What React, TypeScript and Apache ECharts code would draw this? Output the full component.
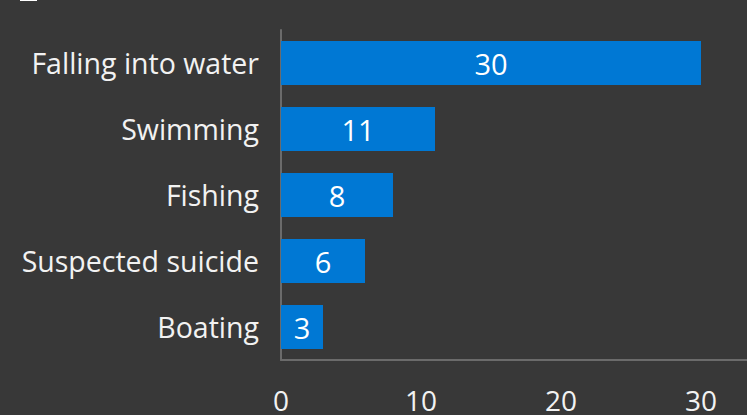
import React, { useEffect, useRef } from "react";
import * as echarts from "echarts";

const categories = ["Falling into water", "Swimming", "Fishing", "Suspected suicide", "Boating"];
const values = [30, 11, 8, 6, 3];
const xTicks = [0, 10, 20, 30, 40];

export default function App() {
  const ref = useRef<HTMLDivElement>(null);
  useEffect(() => {
    if (!ref.current) return;
    const chart = echarts.init(ref.current, undefined, { renderer: "svg" });
    const font = "'Open Sans', 'Noto Sans', sans-serif";
    chart.setOption({
      animation: false,
      backgroundColor: "#383838",
      grid: { left: 281, top: 30, right: 59, bottom: 70, containLabel: false },
      xAxis: {
        type: "value",
        min: xTicks[0],
        max: xTicks[xTicks.length - 1],
        interval: 10,
        axisLine: { show: true, lineStyle: { color: "#6b6b6b", width: 2 } },
        axisTick: { show: false },
        splitLine: { show: false },
        axisLabel: { color: "#f2f2f2", fontSize: 28, fontFamily: font, margin: 26 },
      },
      yAxis: {
        type: "category",
        inverse: true,
        data: categories,
        axisLine: { show: true, lineStyle: { color: "#6b6b6b", width: 2 } },
        axisTick: { show: false },
        axisLabel: { color: "#f2f2f2", fontSize: 28.5, fontFamily: font, margin: 22 },
      },
      series: [
        {
          type: "bar",
          data: values,
          barCategoryGap: "33%",
          itemStyle: { color: "#0078d4" },
          label: {
            show: true,
            position: "inside",
            color: "#ffffff",
            fontSize: 29,
            fontFamily: font,
          },
        },
      ],
      graphic: [
        {
          type: "rect",
          shape: { x: 21, y: -14, width: 15, height: 14 },
          style: { fill: "#555555", stroke: "#ffffff", lineWidth: 2 },
        },
      ],
    });
    return () => chart.dispose();
  }, []);
  return (
    <div style={{ position: "fixed", left: 0, top: 0, width: 747, height: 415, overflow: "hidden", background: "#383838" }}>
      <div ref={ref} style={{ width: 900, height: 430 }} />
    </div>
  );
}
